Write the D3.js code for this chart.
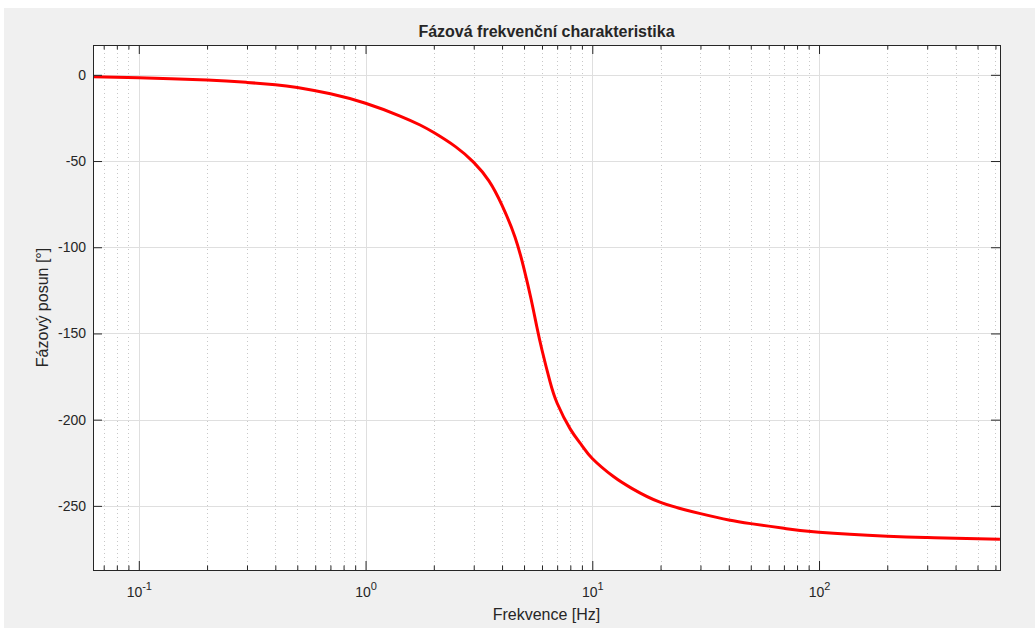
<!DOCTYPE html>
<html>
<head>
<meta charset="utf-8">
<script src="https://cdn.jsdelivr.net/npm/d3@7"></script>
<style>
  body { margin: 0; background: #ffffff; }
  svg text { font-family: "Liberation Sans", Arial, Helvetica, sans-serif; fill: #262626; }
</style>
</head>
<body>
<div id="chart"></div>
<script>
// hodnoty
const freq = [0.0628, 0.1, 0.2, 0.3, 0.4, 0.5, 0.7, 1, 1.42, 1.74, 2, 2.5, 3, 3.5, 4, 4.56, 5, 5.37, 5.69, 6, 6.51, 7, 8, 9, 10, 12.4, 15, 20, 30, 40, 50, 70, 100, 200, 300, 400, 628];
const phase = [-1.1, -1.7, -3.0, -4.4, -5.7, -7.3, -11.0, -16.5, -23.9, -29.1, -33.5, -41.8, -50.8, -61.5, -75.7, -94, -112.5, -130, -146, -159.6, -178, -190.5, -205.5, -215, -222.5, -233, -240, -248, -254.5, -258.2, -260.3, -263, -265.3, -267.6, -268.4, -268.8, -269.3];

const xMajor = [0.1, 1, 10, 100];
const xMajorExp = ["-1", "0", "1", "2"];
const xMinor = [0.07, 0.08, 0.09, 0.2, 0.3, 0.4, 0.5, 0.6, 0.7, 0.8, 0.9, 2, 3, 4, 5, 6, 7, 8, 9, 20, 30, 40, 50, 60, 70, 80, 90, 200, 300, 400, 500, 600];
const yTicks = [-250, -200, -150, -100, -50, 0];

const width = 1035;
const height = 628;
const margin = {top: 45, right: 35, bottom: 58, left: 93};

const svg = d3.select("#chart").append("svg")
    .attr("width", width)
    .attr("height", height);

// šedé pozadí okna
svg.append("rect")
    .attr("x", 4).attr("y", 8)
    .attr("width", width - 4).attr("height", height - 8)
    .attr("fill", "#f0f0f0");

const x = d3.scaleLog()
    .domain([0.0628, 628.3])
    .range([margin.left, width - margin.right]);

const y = d3.scaleLinear()
    .domain([-287.2, 17.3])
    .range([height - margin.bottom, margin.top]);

const [x0, x1] = x.range();
const [y0, y1] = y.range();

svg.append("rect")
    .attr("x", x0).attr("y", y1)
    .attr("width", x1 - x0).attr("height", y0 - y1)
    .attr("fill", "#ffffff");

// mřížka
const grid = svg.append("g");
grid.selectAll(".minor")
    .data(xMinor)
    .enter()
    .append("line")
    .attr("x1", d => Math.round(x(d)) + 0.5)
    .attr("x2", d => Math.round(x(d)) + 0.5)
    .attr("y1", y1).attr("y2", y0)
    .attr("stroke", "#c8c8c8")
    .attr("stroke-dasharray", "1,3");

grid.selectAll(".majorx")
    .data(xMajor)
    .enter()
    .append("line")
    .attr("x1", d => Math.round(x(d)) + 0.5)
    .attr("x2", d => Math.round(x(d)) + 0.5)
    .attr("y1", y1).attr("y2", y0)
    .attr("stroke", "#dfdfdf");

grid.selectAll(".majory")
    .data(yTicks)
    .enter()
    .append("line")
    .attr("x1", x0).attr("x2", x1)
    .attr("y1", d => Math.round(y(d)) + 0.5)
    .attr("y2", d => Math.round(y(d)) + 0.5)
    .attr("stroke", "#dfdfdf");

// křivka
const line = d3.line()
    .x((d, i) => x(freq[i]))
    .y(d => y(d))
    .curve(d3.curveNatural);

svg.append("path")
    .datum(phase)
    .attr("d", line)
    .attr("fill", "none")
    .attr("stroke", "#ff0000")
    .attr("stroke-width", 3)
    .attr("stroke-linejoin", "round");

// osy
function styleAxis(g) {
    g.select(".domain").remove();
    g.selectAll(".tick line").attr("stroke", "#262626");
}

svg.append("g")
    .attr("transform", `translate(0,${y0})`)
    .call(d3.axisBottom(x).tickValues(xMinor).tickSize(-4.5).tickFormat(""))
    .call(styleAxis);

svg.append("g")
    .attr("transform", `translate(0,${y1})`)
    .call(d3.axisTop(x).tickValues(xMinor).tickSize(-4.5).tickFormat(""))
    .call(styleAxis);

svg.append("g")
    .attr("transform", `translate(0,${y1})`)
    .call(d3.axisTop(x).tickValues(xMajor).tickSize(-9).tickFormat(""))
    .call(styleAxis);

const bottom = svg.append("g")
    .attr("transform", `translate(0,${y0})`)
    .call(d3.axisBottom(x).tickValues(xMajor).tickSize(-9).tickPadding(0).tickFormat(""))
    .call(styleAxis);

bottom.selectAll(".tick").each(function (d, i) {
    const t = d3.select(this).append("text")
        .attr("y", 27)
        .attr("text-anchor", "middle")
        .style("font-size", "14px");
    t.append("tspan").text("10");
    t.append("tspan")
        .attr("dy", -7)
        .style("font-size", "11px")
        .text(xMajorExp[i]);
});

svg.append("g")
    .attr("transform", `translate(${x0},0)`)
    .call(d3.axisLeft(y).tickValues(yTicks).tickSize(-9).tickPadding(7).tickFormat(d => String(d)))
    .call(styleAxis)
    .selectAll("text")
    .style("font-size", "14px")
    .attr("fill", "#262626");

svg.append("g")
    .attr("transform", `translate(${x1},0)`)
    .call(d3.axisRight(y).tickValues(yTicks).tickSize(-9).tickFormat(""))
    .call(styleAxis);

// rámeček
svg.append("rect")
    .attr("x", x0 + 0.5).attr("y", y1 + 0.5)
    .attr("width", x1 - x0).attr("height", y0 - y1)
    .attr("fill", "none")
    .attr("stroke", "#262626");

// popisky
svg.append("text")
    .attr("x", (x0 + x1) / 2)
    .attr("y", 37)
    .attr("text-anchor", "middle")
    .style("font-size", "16px")
    .style("font-weight", "bold")
    .attr("fill", "#000000")
    .text("Fázová frekvenční charakteristika");

svg.append("text")
    .attr("x", (x0 + x1) / 2)
    .attr("y", 620)
    .attr("text-anchor", "middle")
    .style("font-size", "16px")
    .text("Frekvence [Hz]");

svg.append("text")
    .attr("transform", `translate(48,${(y0 + y1) / 2}) rotate(-90)`)
    .attr("text-anchor", "middle")
    .style("font-size", "16px")
    .text("Fázový posun [°]");
</script>
</body>
</html>
